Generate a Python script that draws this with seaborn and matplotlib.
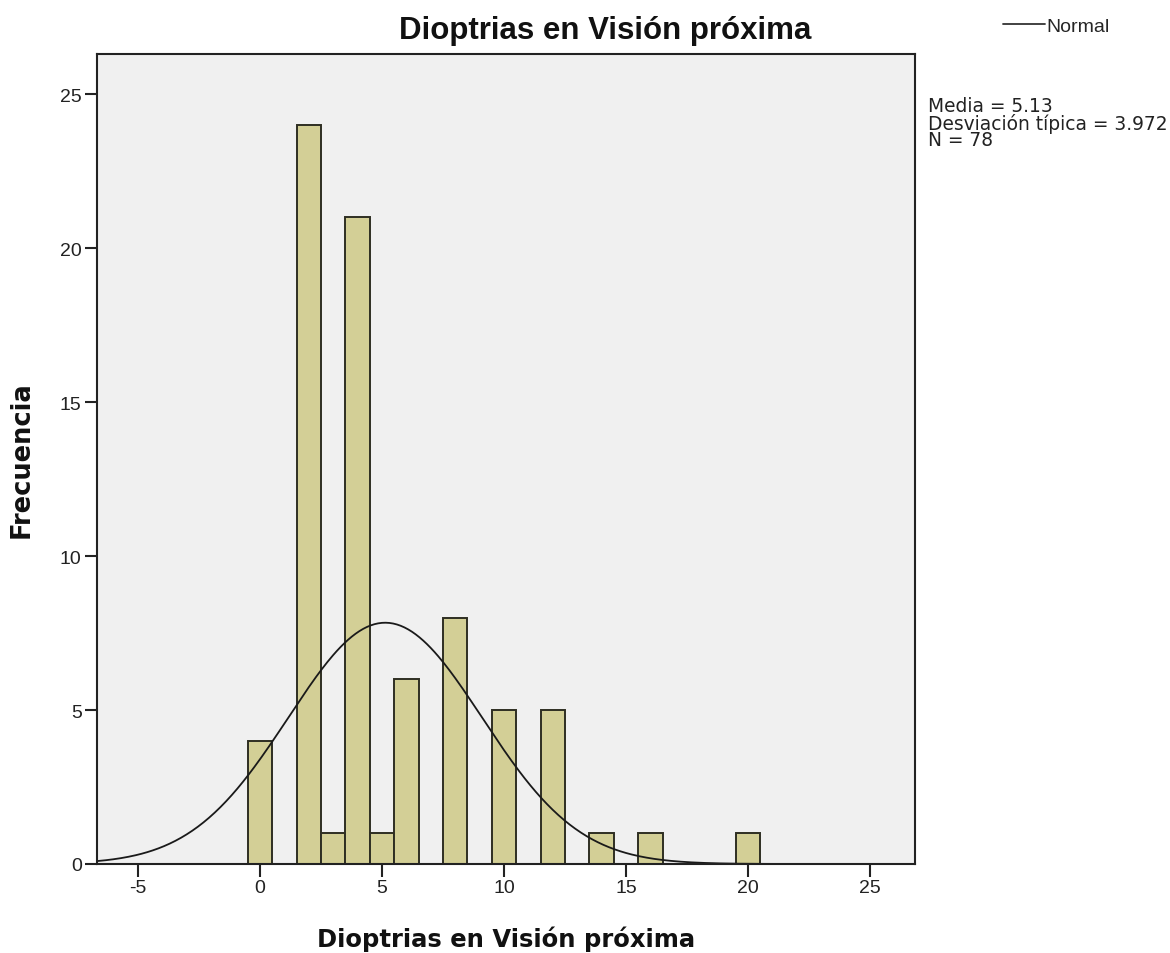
import numpy as np
import pandas as pd
import matplotlib
matplotlib.use("Agg")
import matplotlib.pyplot as plt
import seaborn as sns
from matplotlib.lines import Line2D

# Histogram counts per diopter value
diopter_values = [0, 2, 3, 4, 5, 6, 8, 10, 12, 14, 16, 20]
frequencies = [4, 24, 1, 21, 1, 6, 8, 5, 5, 1, 1, 1]

# Summary statistics shown beside the plot
mean_value = 5.13
std_value = 3.972
n_total = 78

x_ticks = [-5, 0, 5, 10, 15, 20, 25]
y_ticks = [0, 5, 10, 15, 20, 25]

df = pd.DataFrame({"dioptrias": diopter_values, "freq": frequencies})

sns.set_theme(style="white")
plt.rcParams["font.family"] = ["Liberation Sans", "DejaVu Sans"]
plt.rcParams["axes.unicode_minus"] = False

fig = plt.figure(figsize=(11.7, 9.54), dpi=100)
ax = fig.add_axes([97 / 1170, 89 / 954, (915 - 97) / 1170, (865 - 55) / 954])
ax.set_facecolor("#F0F0F0")

sns.histplot(data=df, x="dioptrias", weights="freq", discrete=True,
             color="#D3CF96", alpha=1.0, edgecolor="#2E2E22", linewidth=1.4,
             ax=ax)

# Fitted normal curve scaled to counts (bin width 1)
xs = np.linspace(-6.7, 24.0, 400)
pdf = np.exp(-0.5 * ((xs - mean_value) / std_value) ** 2) / (std_value * np.sqrt(2 * np.pi))
ax.plot(xs, n_total * 1.0 * pdf, color="#1a1a1a", linewidth=1.3)

ax.set_xlim(-6.68, 26.84)
ax.set_ylim(0, 26.3)
ax.set_xticks(x_ticks)
ax.set_yticks(y_ticks)
ax.tick_params(axis="both", direction="out", length=9, width=1.5, color="#222222",
               labelsize=14, labelcolor="#222222", pad=2,
               bottom=True, left=True)
for s in ax.spines.values():
    s.set_color("#222222")
    s.set_linewidth(1.5)

ax.set_xlabel("Dioptrias en Visión próxima", fontsize=17.5, fontweight="bold",
              family="DejaVu Sans", labelpad=21, color="#111111")
ax.set_ylabel("Frecuencia", fontsize=18.5, fontweight="bold",
              family="DejaVu Sans", labelpad=18, color="#111111")

fig.text(605 / 1170, 1 - 31 / 954, "Dioptrias en Visión próxima", ha="center",
         va="center", fontsize=22.5, fontweight="bold", color="#111111")

fig.text(928 / 1170, 1 - 97 / 954,
         f"Media = {mean_value:.2f}\nDesviación típica = {std_value:.3f}\nN = {n_total}",
         ha="left", va="top", fontsize=13.4, family="DejaVu Sans",
         linespacing=0.85, color="#222222")

handle = Line2D([], [], color="#333333", linewidth=1.3)
fig.legend([handle], ["Normal"], loc="center left",
           bbox_to_anchor=(985 / 1170, 1 - 27 / 954), frameon=False,
           handlelength=2.2, handletextpad=0.05, fontsize=14)

fig.savefig("out.png", dpi=100)
